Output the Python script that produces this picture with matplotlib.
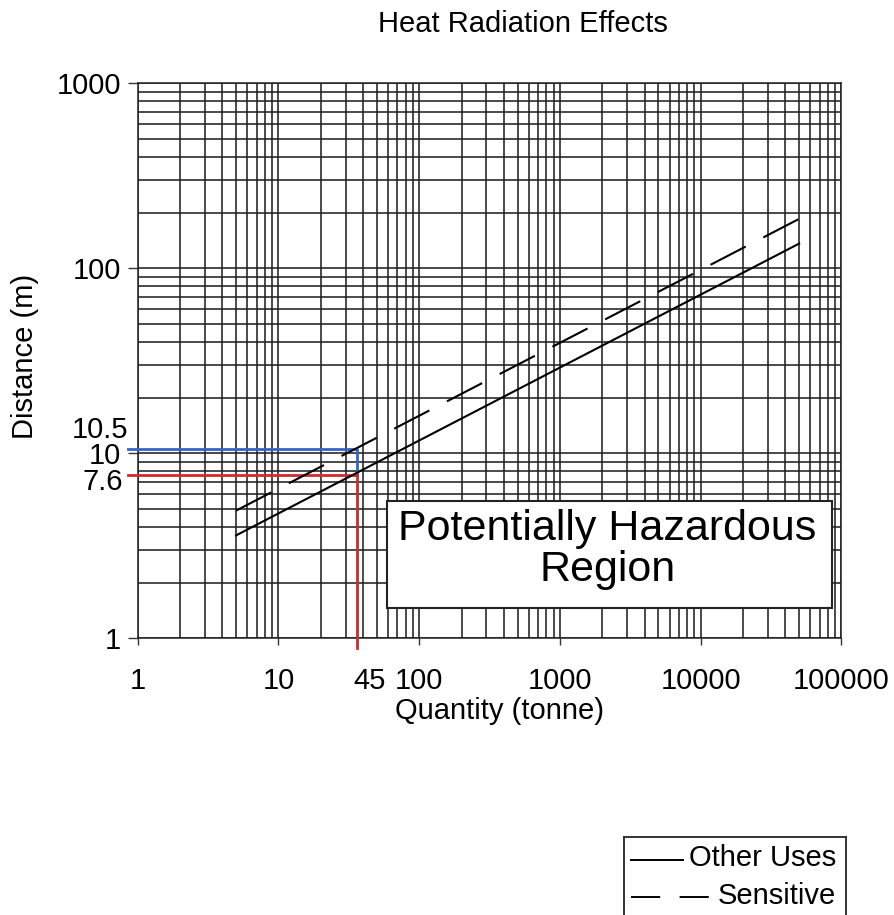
import matplotlib
matplotlib.use("Agg")
import matplotlib.pyplot as plt
from matplotlib.ticker import LogLocator, NullFormatter
from matplotlib.patches import Rectangle

plt.rcParams['font.family'] = ['Liberation Sans', 'DejaVu Sans']

# series (log-log straight lines)
quantity = [5, 50000]
other_uses = [3.6, 136]
sensitive = [4.9, 185]

# worked example marked on the chart
qty_marker = 36
dist_other = 7.6
dist_sensitive = 10.5

x_ticks = [1, 10, 100, 1000, 10000, 100000]
x_labels = ['1', '10', '100', '1000', '10000', '100000']
y_ticks = [1, 10, 100, 1000]
y_labels = ['1', '10', '100', '1000']

W, H = 895, 915
fig = plt.figure(figsize=(W / 100, H / 100), dpi=100)
ax = fig.add_axes([137.7 / W, (H - 638.3) / H, 703.8 / W, 555.0 / H])

ax.set_xscale('log')
ax.set_yscale('log')
ax.set_xlim(1, 100000)
ax.set_ylim(1, 1000)

ax.set_xticks(x_ticks, labels=x_labels)
ax.set_yticks(y_ticks, labels=y_labels)
ax.xaxis.set_minor_locator(LogLocator(base=10, subs=range(2, 10)))
ax.yaxis.set_minor_locator(LogLocator(base=10, subs=range(2, 10)))
ax.xaxis.set_minor_formatter(NullFormatter())
ax.yaxis.set_minor_formatter(NullFormatter())
ax.tick_params(axis='x', which='major', length=5, width=1, color='#333333',
               labelsize=21, pad=16)
ax.tick_params(axis='y', which='major', length=7, width=1, color='#333333',
               labelsize=21, pad=5)
ax.tick_params(which='minor', length=0)

ax.grid(True, which='both', color='#222222', lw=1.15)
ax.set_axisbelow(True)
for s in ax.spines.values():
    s.set_color('#222222')
    s.set_linewidth(1.1)

# curves
ax.plot(quantity, other_uses, color='black', lw=1.5, label='Other Uses', zorder=4)
ax.plot(quantity, sensitive, color='black', lw=1.5, ls=(0, (19, 9.5)),
        label='Sensitive', zorder=4)

# marker lines for the worked example
ax.plot([0.85, qty_marker, qty_marker], [dist_sensitive, dist_sensitive, dist_other],
        color='#3563c9', lw=2, clip_on=False, zorder=3)
ax.plot([0.85, qty_marker, qty_marker], [dist_other, dist_other, 0.885],
        color='#d02a2a', lw=2, clip_on=False, zorder=3)

ytr = ax.get_yaxis_transform()
xtr = ax.get_xaxis_transform()
ax.annotate(f'{dist_sensitive}', xy=(0, dist_sensitive), xycoords=ytr,
            xytext=(-6.5, 14), textcoords='offset points', ha='right', va='center',
            fontsize=21)
ax.annotate(f'{dist_other}', xy=(0, dist_other), xycoords=ytr,
            xytext=(-10.5, -5), textcoords='offset points', ha='right', va='center',
            fontsize=21)
ax.annotate('45', xy=(qty_marker, 0), xycoords=xtr,
            xytext=(-2.5, -21), textcoords='offset points', ha='left', va='top',
            fontsize=21)

# hazard box
ax.add_patch(Rectangle((0.354, 0.054), 0.6325, 0.194, transform=ax.transAxes,
                       facecolor='white', edgecolor='#222222', lw=1.5, zorder=5))
ax.text(0.6676, 0.1598, 'Potentially Hazardous\nRegion', transform=ax.transAxes,
        ha='center', va='center', ma='center', fontsize=31, linespacing=1.05,
        zorder=6)

ax.set_xlabel('Quantity (tonne)', fontsize=21)
ax.xaxis.set_label_coords(0.5136, -0.105)
ax.xaxis.label.set_va('top')
ax.set_ylabel('Distance (m)', fontsize=21)
ax.yaxis.set_label_coords(-0.1403, 0.5076)

fig.text(523 / W, (H - 32) / H, 'Heat Radiation Effects', ha='center',
         va='baseline', fontsize=21)

# legend drawn as a small box in pixel units, text right aligned like the original
lg = fig.add_axes([624 / W, (H - 945) / H, 222 / W, 108 / H])
lg.set_xlim(624, 846)
lg.set_ylim(945, 837)
lg.set_xticks([])
lg.set_yticks([])
for s in lg.spines.values():
    s.set_color('#333333')
    s.set_linewidth(1.4)
lg.plot([631, 683], [860, 860], color='black', lw=1.4)
lg.plot([631, 712], [897, 897], color='black', lw=1.4, ls=(0, (15, 10)))
lg.text(836, 858, 'Other Uses', ha='right', va='center', fontsize=21)
lg.text(836, 896, 'Sensitive', ha='right', va='center', fontsize=21)

fig.savefig('out.png', dpi=100)
